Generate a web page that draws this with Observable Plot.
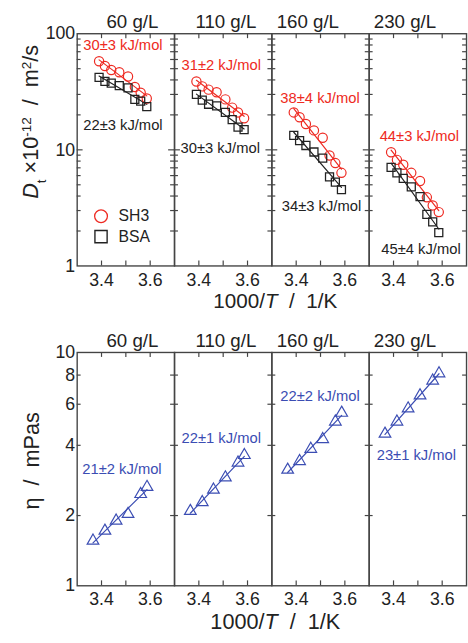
<!DOCTYPE html>
<html><head><meta charset="utf-8">
<script src="https://cdn.jsdelivr.net/npm/d3@7"></script>
<script src="https://cdn.jsdelivr.net/npm/@observablehq/plot@0.6"></script>
<style>
html,body{margin:0;padding:0;background:#fff;}
body{width:468px;height:643px;overflow:hidden;}
#chart{width:468px;height:643px;overflow:hidden;position:relative;}
#chart svg{display:block;}
</style></head>
<body><div id="chart"></div>
<script>
// ---------- data ----------
const concentrations = ["60 g/L", "110 g/L", "160 g/L", "230 g/L"];
const facetLabelX = [3.527, 3.511, 3.448, 3.447];

// top row: 1000/T and tracer diffusion D_t (×10^-12 m²/s)
const topX = [3.39, 3.414, 3.44, 3.473, 3.509, 3.537, 3.561, 3.586];
const sh3D = [
  [58.0, 52.7, 48.7, 46.6, 42.8, 34.8, 31.0, 27.7],
  [38.8, 35.2, 33.0, 31.3, 27.2, 23.1, 21.0, 18.7],
  [21.0, 19.1, 16.7, 14.7, 12.7, 8.93, 7.69, 6.34],
  [9.53, 8.20, 7.44, 6.34, 5.39, 3.90, 3.32, 2.91]
];
const bsaD = [
  [42.0, 38.8, 37.6, 35.7, 34.2, 27.2, 26.3, 23.6],
  [30.0, 26.8, 24.7, 23.9, 21.0, 18.2, 15.7, 14.9],
  [13.3, 12.0, 10.9, 9.58, 8.48, 5.86, 5.27, 4.55],
  [7.07, 6.34, 5.67, 4.80, 3.95, 2.78, 2.40, 1.94]
];
const sh3Ea = ["30±3 kJ/mol", "31±2 kJ/mol", "38±4 kJ/mol", "44±3 kJ/mol"];
const bsaEa = ["22±3 kJ/mol", "30±3 kJ/mol", "34±3 kJ/mol", "45±4 kJ/mol"];
const sh3NoteX = [3.325, 3.329, 3.335, 3.343];
const sh3NoteY = [79.2, 53.7, 27.7, 13.2];
const bsaNoteX = [3.325, 3.325, 3.341, 3.35];
const bsaNoteY = [16.4, 10.4, 3.25, 1.38];
const legendNames = ["SH3", "BSA"];
const legendMarkX = 3.398, legendTextX = 3.47;
const legendY = [2.68, 1.79];
const topTicksMajor = [10];
const topTicksMinor = [2, 3, 4, 5, 6, 7, 8, 9, 20, 30, 40, 50, 60, 70, 80, 90];
const topTickLabels = [1, 10, 100];

// bottom row: 1000/T and viscosity η (mPas)
const bottomX = [3.365, 3.414, 3.46, 3.509, 3.561, 3.587];
const viscosity = [
  [1.56, 1.72, 1.90, 2.03, 2.47, 2.65],
  [2.09, 2.28, 2.58, 2.91, 3.37, 3.63],
  [3.14, 3.42, 3.86, 4.25, 5.05, 5.51],
  [4.48, 5.05, 5.75, 6.54, 7.57, 8.13]
];
const etaEa = ["21±2 kJ/mol", "22±1 kJ/mol", "22±2 kJ/mol", "23±1 kJ/mol"];
const etaNoteX = [3.321, 3.329, 3.335, 3.331];
const etaNoteY = [3.15, 4.30, 6.52, 3.61];
const bottomTicks = [2, 4, 6, 8];
const bottomTickLabels = [1, 2, 4, 6, 8, 10];

const xTicks = [3.4, 3.5, 3.6];
const xTickLabels = [3.4, 3.6];

// ---------- style ----------
const FONT = '"Liberation Sans", Arial, Helvetica, sans-serif';
const RED = "#ee2a22", BLUE = "#3b4db3", INK = "#222", AXIS = "#444";
const W = 476, ML = 78, MR = 2;
const PANEL = (W - ML - MR) / concentrations.length;

// least-squares fit of log10(y) against x, drawn between the extreme x values
function fit(xs, ys) {
  const ly = ys.map(Math.log10);
  const mx = d3.mean(xs), my = d3.mean(ly);
  const b = d3.sum(xs, (x, i) => (x - mx) * (ly[i] - my)) / d3.sum(xs, x => (x - mx) ** 2);
  const a = my - b * mx;
  const [x0, x1] = d3.extent(xs);
  return [{x: x0, y: 10 ** (a + b * x0)}, {x: x1, y: 10 ** (a + b * x1)}];
}

function tickMarks(minor, major, H) {
  return [
    Plot.ruleY(minor, {stroke: AXIS, strokeWidth: 1.2, insetRight: PANEL - 4}),
    Plot.ruleY(minor, {stroke: AXIS, strokeWidth: 1.2, insetLeft: PANEL - 4}),
    Plot.ruleY(major, {stroke: AXIS, strokeWidth: 1.2, insetRight: PANEL - 6}),
    Plot.ruleY(major, {stroke: AXIS, strokeWidth: 1.2, insetLeft: PANEL - 6}),
    Plot.ruleX(xTicks, {stroke: AXIS, strokeWidth: 1.2, insetTop: H - 5}),
    Plot.ruleX(xTicks, {stroke: AXIS, strokeWidth: 1.2, insetBottom: H - 5})
  ];
}

const facetRows = concentrations.map((c, i) => ({c, x: facetLabelX[i]}));

// ---------- top chart ----------
const topSH3 = [], topBSA = [], topFitSH3 = [], topFitBSA = [];
concentrations.forEach((c, i) => {
  topX.forEach((x, j) => {
    topSH3.push({c, x, y: sh3D[i][j]});
    topBSA.push({c, x, y: bsaD[i][j]});
  });
  fit(topX, sh3D[i]).forEach(p => topFitSH3.push({c, ...p}));
  fit(topX, bsaD[i]).forEach(p => topFitBSA.push({c, ...p}));
});
const sh3Notes = concentrations.map((c, i) => ({c, x: sh3NoteX[i], y: sh3NoteY[i], t: sh3Ea[i]}));
const bsaNotes = concentrations.map((c, i) => ({c, x: bsaNoteX[i], y: bsaNoteY[i], t: bsaEa[i]}));
const legendRows = legendNames.map((n, i) => ({c: concentrations[0], x: legendMarkX, tx: legendTextX, y: legendY[i], n}));

const TOP_H = 315, TOP_MT = 33.8, TOP_MB = 45;
const topChart = Plot.plot({
  width: W, height: TOP_H,
  marginLeft: ML, marginRight: MR, marginTop: TOP_MT, marginBottom: TOP_MB,
  style: {fontFamily: FONT, fontSize: "18px", color: INK, background: "white", overflow: "visible"},
  fx: {domain: concentrations, padding: 0, axis: null, label: null},
  x: {domain: [3.3, 3.7], label: null},
  y: {type: "log", domain: [1, 100], label: null},
  marks: [
    ...tickMarks(topTicksMinor, topTicksMajor, TOP_H - TOP_MT - TOP_MB),
    Plot.frame({stroke: AXIS, strokeWidth: 1.4}),
    Plot.axisX({ticks: xTickLabels, tickSize: 0, tickPadding: 8, tickFormat: d => d.toFixed(1), label: null, fill: INK}),
    Plot.axisY({anchor: "left", ticks: topTickLabels, tickSize: 0, tickPadding: 2, tickFormat: d => String(d), label: null, fill: INK}),
    Plot.line(topFitSH3, {fx: "c", x: "x", y: "y", stroke: RED, strokeWidth: 1.2}),
    Plot.line(topFitBSA, {fx: "c", x: "x", y: "y", stroke: INK, strokeWidth: 1.2}),
    Plot.dot(topSH3, {fx: "c", x: "x", y: "y", symbol: "circle", r: 4.7, stroke: RED, strokeWidth: 1.2, fill: "none"}),
    Plot.dot(topBSA, {fx: "c", x: "x", y: "y", symbol: "square", r: 4.6, stroke: INK, strokeWidth: 1.3, fill: "none"}),
    Plot.text(sh3Notes, {fx: "c", x: "x", y: "y", text: "t", fill: RED, textAnchor: "start", fontSize: 15}),
    Plot.text(bsaNotes, {fx: "c", x: "x", y: "y", text: "t", fill: INK, textAnchor: "start", fontSize: 15}),
    Plot.dot(legendRows.slice(0, 1), {fx: "c", x: "x", y: "y", symbol: "circle", r: 6.5, stroke: RED, strokeWidth: 1.3, fill: "none"}),
    Plot.dot(legendRows.slice(1), {fx: "c", x: "x", y: "y", symbol: "square", r: 7, stroke: INK, strokeWidth: 1.4, fill: "none"}),
    Plot.text(legendRows, {fx: "c", x: "tx", y: "y", text: "n", fill: INK, textAnchor: "start", fontSize: 16}),
    Plot.text(facetRows, {fx: "c", x: "x", frameAnchor: "top", lineAnchor: "middle", dy: -12, text: "c", fill: INK, fontSize: 19})
  ]
});

// ---------- bottom chart ----------
const etaRows = [], etaFit = [];
concentrations.forEach((c, i) => {
  bottomX.forEach((x, j) => etaRows.push({c, x, y: viscosity[i][j]}));
  fit(bottomX, viscosity[i]).forEach(p => etaFit.push({c, ...p}));
});
const etaNotes = concentrations.map((c, i) => ({c, x: etaNoteX[i], y: etaNoteY[i], t: etaEa[i]}));

const BOT_H = 328, BOT_MT = 42.7, BOT_MB = 48;
const bottomChart = Plot.plot({
  width: W, height: BOT_H,
  marginLeft: ML, marginRight: MR, marginTop: BOT_MT, marginBottom: BOT_MB,
  style: {fontFamily: FONT, fontSize: "18px", color: INK, background: "white", overflow: "visible"},
  fx: {domain: concentrations, padding: 0, axis: null, label: null},
  x: {domain: [3.3, 3.7], label: null},
  y: {type: "log", domain: [1, 10], label: null},
  marks: [
    ...tickMarks(bottomTicks, [], BOT_H - BOT_MT - BOT_MB),
    Plot.frame({stroke: AXIS, strokeWidth: 1.4}),
    Plot.axisX({ticks: xTickLabels, tickSize: 0, tickPadding: 7, tickFormat: d => d.toFixed(1), label: null, fill: INK}),
    Plot.axisY({anchor: "left", ticks: bottomTickLabels, tickSize: 0, tickPadding: 2, tickFormat: d => String(d), label: null, fill: INK}),
    Plot.line(etaFit, {fx: "c", x: "x", y: "y", stroke: BLUE, strokeWidth: 1.2}),
    Plot.dot(etaRows, {fx: "c", x: "x", y: "y", symbol: "triangle", r: 4.4, stroke: BLUE, strokeWidth: 1.2, fill: "none"}),
    Plot.text(etaNotes, {fx: "c", x: "x", y: "y", text: "t", fill: BLUE, textAnchor: "start", fontSize: 15}),
    Plot.text(facetRows, {fx: "c", x: "x", frameAnchor: "top", lineAnchor: "middle", dy: -12, text: "c", fill: INK, fontSize: 19})
  ]
});

// ---------- axis titles (with italic / sub / superscript parts) ----------
function addTitle(svg, {x, y, rotate = 0, size, parts}) {
  const t = d3.select(svg).append("text")
    .attr("transform", `translate(${x},${y}) rotate(${rotate})`)
    .attr("text-anchor", "middle")
    .attr("fill", INK)
    .style("font-family", FONT)
    .style("font-size", size + "px")
    .style("white-space", "pre");
  parts.forEach(p => {
    const ts = t.append("tspan").text(p.t);
    if (p.i) ts.style("font-style", "italic");
    if (p.sub) ts.attr("baseline-shift", "sub").style("font-size", (size * 0.62) + "px");
    if (p.sup) ts.attr("baseline-shift", "super").style("font-size", (size * 0.62) + "px");
  });
}
const xTitleParts = [{t: "1000/"}, {t: "T", i: true}, {t: "  /  1/K"}];
addTitle(topChart, {x: 280, y: 313, size: 21, parts: xTitleParts});
addTitle(topChart, {x: 39, y: 124, rotate: -90, size: 22, parts: [
  {t: "D", i: true}, {t: "t", sub: true}, {t: " ×10"}, {t: "-12", sup: true}, {t: "  /  m"}, {t: "2", sup: true}, {t: "/s"}
]});
addTitle(bottomChart, {x: 280, y: 324, size: 22, parts: xTitleParts});
addTitle(bottomChart, {x: 40, y: 153.5, rotate: -90, size: 22, parts: [{t: "η  /  mPas"}]});

const root = document.getElementById("chart");
root.appendChild(topChart);
root.appendChild(bottomChart);
</script>
</body></html>
